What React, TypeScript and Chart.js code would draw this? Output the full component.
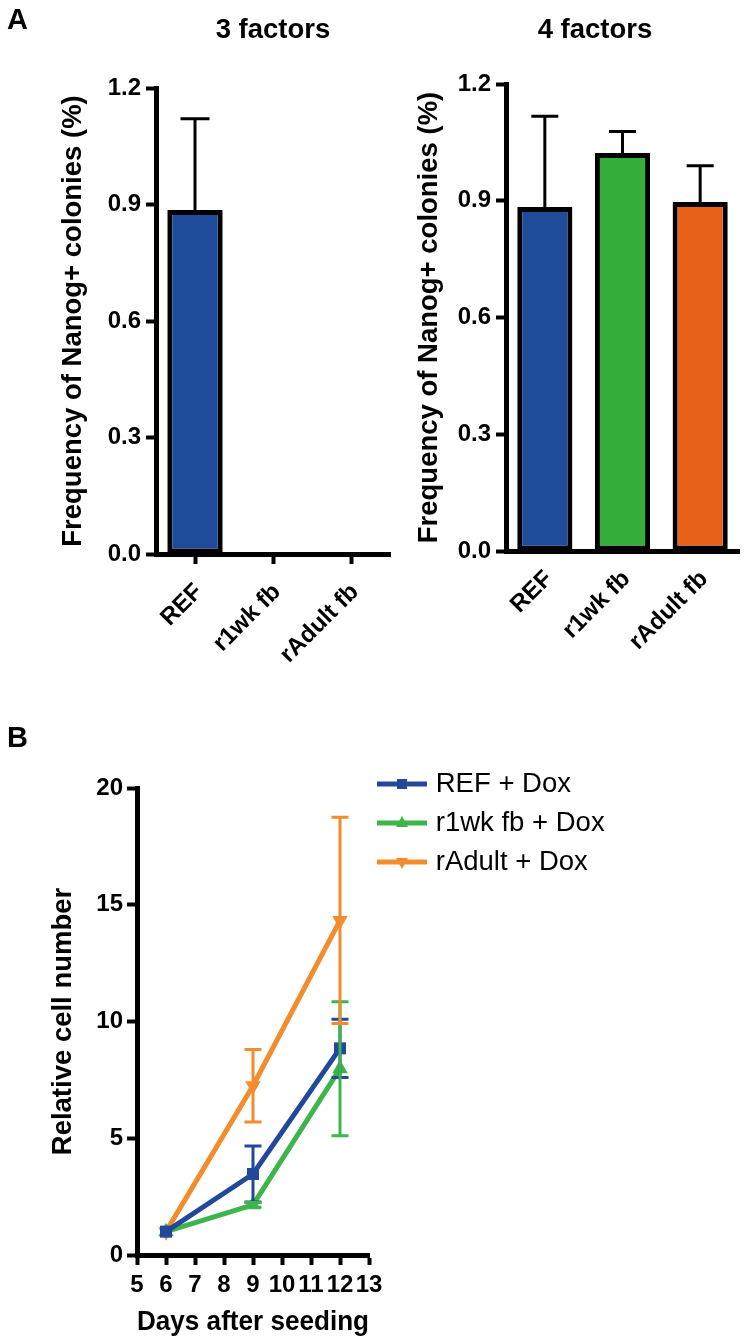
import React, { useEffect, useRef } from 'react';
import { Chart, registerables } from 'chart.js';

Chart.register(...registerables);

const FONT = "'Liberation Sans', Arial, Helvetica, sans-serif";

// ---- Panel A data ----
const barCategories = ['REF', 'r1wk fb', 'rAdult fb'];
const threeFactorValues = [0.886, 0, 0];
const threeFactorErrors = [0.235, 0, 0];
const fourFactorValues = [0.884, 1.023, 0.897];
const fourFactorErrors = [0.233, 0.055, 0.093];
const barColors = ['#1f4b9b', '#34ad3a', '#e8621c'];
const barYMin = 0;
const barYMax = 1.2;
const barYStep = 0.3;

// ---- Panel B data ----
const days = [6, 9, 12];
const refDox = [1, 3.47, 8.85];
const refDoxErr = [0, 1.2, 1.25];
const r1wkDox = [1, 2.15, 7.98];
const r1wkDoxErr = [0, 0.1, 2.87];
const rAdultDox = [1, 7.25, 14.33];
const rAdultDoxErr = [0, 1.55, 4.42];
const lineLabels = ['REF + Dox', 'r1wk fb + Dox', 'rAdult + Dox'];
const lineColors = ['#22489b', '#3db54a', '#f28c2d'];
const lineXMin = 5;
const lineXMax = 13;
const lineYMin = 0;
const lineYMax = 20;
const lineYStep = 5;

const errorBarPlugin = {
  id: 'errorBars',
  afterDatasetsDraw(chart: any) {
    const ctx = chart.ctx;
    const yScale = chart.scales.y;
    chart.data.datasets.forEach((ds: any, di: number) => {
      if (!ds.errors) return;
      const meta = chart.getDatasetMeta(di);
      meta.data.forEach((el: any, i: number) => {
        const e = ds.errors[i];
        if (!e) return;
        const raw = ds.data[i];
        const v = raw !== null && typeof raw === 'object' ? raw.y : raw;
        if (v == null) return;
        const x = el.x;
        const cap = ds.errorCap / 2;
        const yTop = yScale.getPixelForValue(v + e);
        const yBot = yScale.getPixelForValue(ds.errorMode === 'up' ? v : v - e);
        ctx.save();
        ctx.strokeStyle = ds.errorColor;
        ctx.lineWidth = ds.errorWidth;
        ctx.lineCap = 'butt';
        ctx.beginPath();
        ctx.moveTo(x, yBot);
        ctx.lineTo(x, yTop);
        ctx.moveTo(x - cap, yTop);
        ctx.lineTo(x + cap, yTop);
        if (ds.errorMode !== 'up') {
          ctx.moveTo(x - cap, yBot);
          ctx.lineTo(x + cap, yBot);
        }
        ctx.stroke();
        ctx.restore();
      });
    });
  },
};

const legendMover = {
  id: 'legendMover',
  afterLayout(chart: any, _args: any, opts: any) {
    const lg = chart.legend;
    if (!lg || !opts || opts.x == null) return;
    lg.left = opts.x;
    lg.top = opts.y;
    lg.right = opts.x + 340;
    lg.bottom = opts.y + 300;
  },
};

function makeIcon(color: string, kind: string) {
  const c = document.createElement('canvas');
  c.width = 50;
  c.height = 20;
  const g = c.getContext('2d')!;
  g.strokeStyle = color;
  g.fillStyle = color;
  g.lineWidth = 5;
  g.beginPath();
  g.moveTo(0, 10);
  g.lineTo(50, 10);
  g.stroke();
  g.beginPath();
  if (kind === 'rect') {
    g.rect(20, 5, 10, 10);
  } else if (kind === 'up') {
    g.moveTo(25, 3);
    g.lineTo(31, 14);
    g.lineTo(19, 14);
    g.closePath();
  } else {
    g.moveTo(25, 17);
    g.lineTo(31, 6);
    g.lineTo(19, 6);
    g.closePath();
  }
  g.fill();
  return c;
}

const tickFont = { family: FONT, size: 24, weight: 'bold' as const };
const titleFont = { family: FONT, size: 27.5, weight: 'bold' as const };

function barConfig(values: number[], errors: number[], p: any): any {
  return {
    type: 'bar',
    data: {
      labels: barCategories,
      datasets: [
        {
          data: values,
          backgroundColor: barColors,
          borderColor: '#000',
          borderWidth: 5,
          borderSkipped: false,
          barPercentage: 0.71,
          categoryPercentage: 1,
          errors,
          errorMode: 'up',
          errorColor: '#000',
          errorWidth: 3,
          errorCap: p.cap,
        },
      ],
    },
    options: {
      responsive: false,
      maintainAspectRatio: false,
      animation: false,
      layout: { padding: { left: p.padLeft, top: 0, right: p.padRight, bottom: 0 } },
      plugins: {
        legend: { display: false },
        tooltip: { enabled: false },
        title: {
          display: true,
          text: p.title,
          color: '#000',
          font: titleFont,
          fullSize: p.titleFull,
          padding: { top: 14, bottom: p.titleBottom },
        },
      },
      scales: {
        x: {
          grid: {
            display: true,
            offset: false,
            drawOnChartArea: false,
            drawTicks: p.xTicks,
            tickLength: 10,
            tickWidth: 4,
            tickColor: '#000',
            color: '#000',
          },
          border: { display: true, color: '#000', width: 5 },
          ticks: {
            color: '#000',
            font: tickFont,
            minRotation: 45,
            maxRotation: 45,
            autoSkip: false,
            padding: 14,
            labelOffset: 4,
          },
          afterFit: (s: any) => {
            s.height = p.xHeight;
          },
        },
        y: {
          min: barYMin,
          max: barYMax,
          ticks: {
            stepSize: barYStep,
            color: '#000',
            font: tickFont,
            padding: 5,
            callback: (v: any) => Number(v).toFixed(1),
          },
          grid: {
            display: true,
            drawOnChartArea: false,
            drawTicks: true,
            tickLength: 10,
            tickWidth: 4,
            tickColor: '#000',
            color: '#000',
          },
          border: { display: true, color: '#000', width: 5 },
          title: {
            display: true,
            text: 'Frequency of Nanog+ colonies (%)',
            color: '#000',
            font: titleFont,
            padding: { top: p.yTitlePad, bottom: 0 },
          },
          afterFit: (s: any) => {
            s.width = p.yWidth;
          },
        },
      },
    },
    plugins: [errorBarPlugin],
  };
}

function lineConfig(): any {
  const series = [
    { values: refDox, errs: refDoxErr, style: 'rect', rot: 0, icon: 'rect', radius: 8.5 },
    { values: r1wkDox, errs: r1wkDoxErr, style: 'triangle', rot: 0, icon: 'up', radius: 9 },
    { values: rAdultDox, errs: rAdultDoxErr, style: 'triangle', rot: 180, icon: 'down', radius: 9 },
  ];
  const datasets = series.map((s, i) => ({
    label: lineLabels[i],
    data: days.map((d, j) => ({ x: d, y: s.values[j] })),
    borderColor: lineColors[i],
    backgroundColor: lineColors[i],
    borderWidth: 5,
    pointStyle: s.style,
    pointRotation: s.rot,
    pointRadius: s.radius,
    pointBorderWidth: 0,
    tension: 0,
    fill: false,
    errors: s.errs,
    errorMode: 'both',
    errorColor: lineColors[i],
    errorWidth: 3,
    errorCap: 17,
    iconKind: s.icon,
  }));
  return {
    type: 'line',
    data: { datasets },
    options: {
      responsive: false,
      maintainAspectRatio: false,
      animation: false,
      layout: { padding: { left: 0, top: 68, right: 379, bottom: 0 } },
      plugins: {
        tooltip: { enabled: false },
        legendMover: { x: 370.5, y: 38.75 },
        legend: {
          display: true,
          position: 'chartArea',
          align: 'start',
          labels: {
            usePointStyle: true,
            pointStyleWidth: 40,
            padding: 11.5,
            color: '#000',
            font: { family: FONT, size: 27.5 },
            generateLabels: (chart: any) =>
              chart.data.datasets.map((ds: any, i: number) => ({
                text: ds.label,
                fillStyle: ds.borderColor,
                strokeStyle: ds.borderColor,
                lineWidth: 0,
                hidden: false,
                datasetIndex: i,
                index: i,
                rotation: 0,
                fontColor: '#000',
                pointStyle: makeIcon(ds.borderColor, ds.iconKind),
              })),
          },
        },
      },
      scales: {
        x: {
          type: 'linear',
          min: lineXMin,
          max: lineXMax,
          ticks: { stepSize: 1, autoSkip: false, color: '#000', font: tickFont, padding: 6, maxRotation: 0 },
          grid: {
            display: true,
            drawOnChartArea: false,
            drawTicks: true,
            tickLength: 10,
            tickWidth: 4,
            tickColor: '#000',
            color: '#000',
          },
          border: { display: true, color: '#000', width: 5 },
          title: {
            display: true,
            text: 'Days after seeding',
            color: '#000',
            font: titleFont,
            padding: { top: 0, bottom: 5 },
          },
          afterFit: (s: any) => {
            s.height = 89;
          },
        },
        y: {
          min: lineYMin,
          max: lineYMax,
          ticks: { stepSize: lineYStep, color: '#000', font: tickFont, padding: 4 },
          grid: {
            display: true,
            drawOnChartArea: false,
            drawTicks: true,
            tickLength: 10,
            tickWidth: 4,
            tickColor: '#000',
            color: '#000',
          },
          border: { display: true, color: '#000', width: 5 },
          title: {
            display: true,
            text: 'Relative cell number',
            color: '#000',
            font: titleFont,
            padding: { top: 47, bottom: 0 },
          },
          afterFit: (s: any) => {
            s.width = 137;
          },
        },
      },
    },
    plugins: [errorBarPlugin, legendMover],
  };
}

export default function App() {
  const a1 = useRef<HTMLCanvasElement>(null);
  const a2 = useRef<HTMLCanvasElement>(null);
  const b = useRef<HTMLCanvasElement>(null);

  useEffect(() => {
    const charts: Chart[] = [];
    if (a1.current) {
      charts.push(
        new Chart(
          a1.current,
          barConfig(threeFactorValues, threeFactorErrors, {
            title: '3 factors',
            titleFull: false,
            titleBottom: 41,
            padLeft: 0,
            padRight: 10,
            xHeight: 146,
            yWidth: 156,
            yTitlePad: 57,
            xTicks: true,
            cap: 29,
          })
        )
      );
    }
    if (a2.current) {
      charts.push(
        new Chart(
          a2.current,
          barConfig(fourFactorValues, fourFactorErrors, {
            title: '4 factors',
            titleFull: true,
            titleBottom: 37,
            padLeft: 77,
            padRight: 9,
            xHeight: 149,
            yWidth: 55,
            yTitlePad: -38,
            xTicks: false,
            cap: 27,
          })
        )
      );
    }
    if (b.current) {
      charts.push(new Chart(b.current, lineConfig()));
    }
    return () => charts.forEach((c) => c.destroy());
  }, []);

  const panelLabel: React.CSSProperties = {
    position: 'absolute',
    left: 7,
    fontFamily: FONT,
    fontWeight: 'bold',
    fontSize: 29,
    lineHeight: '29px',
    color: '#000',
  };

  return (
    <div
      style={{
        position: 'absolute',
        left: 0,
        top: 0,
        width: 748,
        height: 1344,
        overflow: 'hidden',
        background: '#fff',
      }}
    >
      <canvas ref={a1} width={400} height={700} style={{ position: 'absolute', left: 0, top: 0, width: 400, height: 700 }} />
      <canvas ref={a2} width={374} height={700} style={{ position: 'absolute', left: 374, top: 0, width: 374, height: 700 }} />
      <canvas ref={b} width={748} height={624} style={{ position: 'absolute', left: 0, top: 720, width: 748, height: 624 }} />
      <div style={{ ...panelLabel, top: 5 }}>A</div>
      <div style={{ ...panelLabel, top: 723 }}>B</div>
    </div>
  );
}
